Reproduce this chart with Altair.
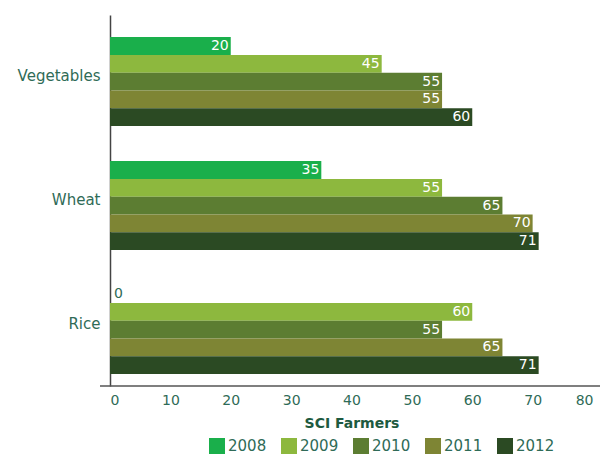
import altair as alt
import pandas as pd

crops = ["Vegetables", "Wheat", "Rice"]
years = ["2008", "2009", "2010", "2011", "2012"]
vegetables = [20, 45, 55, 55, 60]
wheat = [35, 55, 65, 70, 71]
rice = [0, 60, 55, 65, 71]
colors = ["#1aaf4b", "#8db83e", "#5c7d32", "#7e8534", "#2b4a23"]
x_ticks = [0, 10, 20, 30, 40, 50, 60, 70, 80]

rows = []
for crop, vals in zip(crops, [vegetables, wheat, rice]):
    for yr, v in zip(years, vals):
        rows.append({"crop": crop, "year": yr, "value": v})
df = pd.DataFrame(rows)

font = "DejaVu Sans"
text_color = "#2f6b57"

y_enc = alt.Y(
    "crop:N", sort=crops,
    scale=alt.Scale(paddingInner=0.282, paddingOuter=0.137, align=0.65),
    axis=alt.Axis(title=None, ticks=False, labelFont=font, labelFontSize=15,
                  labelColor=text_color, labelPadding=10, labelOffset=-6,
                  domainColor="#444444", domainWidth=1.5),
)
yoff = alt.YOffset("year:N", sort=years, scale=alt.Scale(paddingInner=0, paddingOuter=0))
x_enc = alt.X(
    "value:Q",
    scale=alt.Scale(domain=[0, 80], nice=False),
    axis=alt.Axis(values=x_ticks, grid=False, ticks=False, domain=False,
                  labelFont=font, labelFontSize=14, labelColor=text_color,
                  labelPadding=7, title="SCI Farmers", titleFont=font,
                  titleFontSize=14, titleFontWeight="bold", titleColor="#1d5a40",
                  titlePadding=9),
)
color_enc = alt.Color(
    "year:N", sort=years,
    scale=alt.Scale(domain=years, range=colors),
    legend=alt.Legend(orient="none", legendX=99, legendY=423, direction="horizontal",
                      columns=5, title=None, symbolType="square", symbolSize=256,
                      symbolStrokeWidth=0, labelFont=font, labelFontSize=15,
                      labelColor=text_color, columnPadding=14, labelOffset=3),
)

base = alt.Chart(df)
bars = base.mark_bar().encode(x=x_enc, y=y_enc, yOffset=yoff, color=color_enc)
labels = base.mark_text(align="right", baseline="middle", dx=-2, color="white",
                        font=font, fontSize=14).encode(
    x="value:Q", y=alt.Y("crop:N", sort=crops), yOffset=alt.YOffset("year:N", sort=years),
    text="value:Q").transform_filter("datum.value > 0")
zero_labels = base.mark_text(align="left", baseline="middle", dx=4, color=text_color,
                             font=font, fontSize=14).encode(
    x="value:Q", y=alt.Y("crop:N", sort=crops), yOffset=alt.YOffset("year:N", sort=years),
    text="value:Q").transform_filter("datum.value == 0")
axis_line = alt.Chart(pd.DataFrame({"a": [0]})).mark_rule(color="#555555", strokeWidth=1.5).encode(
    x=alt.value(-10), x2=alt.value(494), y=alt.value(371))

chart = alt.layer(bars, labels, zero_labels, axis_line).properties(
    width=483, height=371,
    autosize=alt.AutoSizeParams(type="none"),
    padding={"left": 102, "top": 7, "right": 7, "bottom": 69},
    background="white",
).configure_view(stroke=None)

chart.save("out.html", embed_options={"renderer": "svg", "actions": False})
